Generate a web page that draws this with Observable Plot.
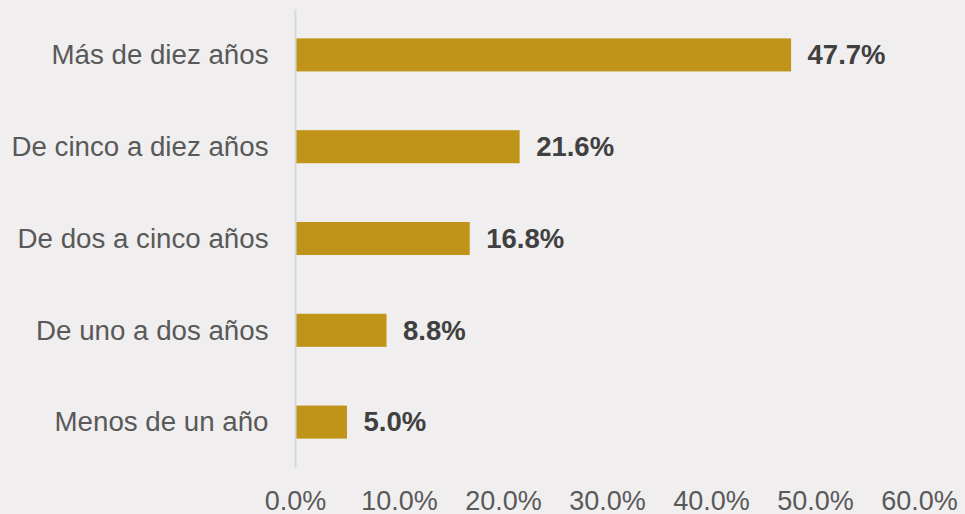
<!DOCTYPE html>
<html><head><meta charset="utf-8">
<script src="https://cdn.jsdelivr.net/npm/d3@7"></script>
<script src="https://cdn.jsdelivr.net/npm/@observablehq/plot@0.6"></script>
<style>
html,body{margin:0;padding:0;background:#f0eeef;}
#chart{width:965px;height:514px;overflow:hidden;}
</style></head>
<body><div id="chart"></div>
<script>
const categories = ["Más de diez años","De cinco a diez años","De dos a cinco años","De uno a dos años","Menos de un año"];
const values = [47.7, 21.6, 16.8, 8.8, 5.0];
const xTicks = [0,10,20,30,40,50,60];

const data = categories.map((c,i)=>({cat:c, v:values[i]}));

const chart = Plot.plot({
  width: 965, height: 514,
  marginLeft: 295, marginRight: 46, marginTop: 9, marginBottom: 46,
  style: {background:"#f0eeef", fontFamily:"'Liberation Sans', Arial, sans-serif", fontSize:"28px", overflow:"visible"},
  x: {domain:[0,60], ticks: xTicks, tickFormat: d=>d.toFixed(1)+"%"},
  y: {domain: categories, paddingInner: 0.64, paddingOuter: 0.32, round: false, label:null},
  marks: [
    Plot.barX(data, {x:"v", y:"cat", fill:"#c09418"}),
    Plot.ruleX([0], {stroke:"#d9d9d9", strokeWidth:2}),
    Plot.text(data, {x:"v", y:"cat", text:d=>d.v.toFixed(1)+"%", textAnchor:"start", dx:16, fill:"#404040", fontWeight:"bold", fontSize:27.5}),
    Plot.axisX({ticks:xTicks, tickFormat:d=>d.toFixed(1)+"%", tickSize:0, tickPadding:22, label:null, fill:"#595959", fontSize:27}),
    Plot.axisY({tickSize:0, tickPadding:27, label:null, fill:"#595959", fontSize:27.7})
  ]
});
document.getElementById("chart").appendChild(chart);
</script></body></html>
